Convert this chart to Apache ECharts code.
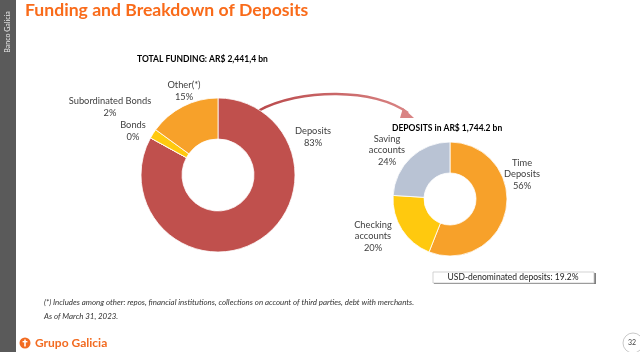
<!DOCTYPE html>
<html>
<head>
<meta charset="utf-8">
<script src="https://cdn.jsdelivr.net/npm/echarts@6/dist/echarts.min.js"></script>
<style>
  html, body { margin: 0; padding: 0; background: #fff; }
  #chart { width: 640px; height: 352px; }
</style>
</head>
<body>
<div id="chart"></div>
<script>
// funding breakdown (left donut), % of total
var fundingNames = ['Deposits', 'Bonds', 'Subordinated Bonds', 'Other(*)'];
var fundingValues = [83, 0, 2, 15];
// deposits breakdown (right donut), % of deposits
var depositNames = ['Time\nDeposits', 'Checking\naccounts', 'Saving\naccounts'];
var depositValues = [56, 20, 24];

var fundingColors = ['#C0504D', '#FFC000', '#FFC90E', '#F7A12A'];
var depositColors = ['#F7A12A', '#FFC90E', '#B9C3D4'];

// label anchor points (text centres), same order as the data
var fundingLabelPos = [[313, 137], [133, 131], [110, 107], [184, 91]];
var depositLabelPos = [[522, 174], [373, 236], [387, 150]];

var FONT = 'Lato, "Open Sans", sans-serif';
var chart = echarts.init(document.getElementById('chart'));

function pieData(names, values, colors) {
  return names.map(function (n, i) {
    return { name: n, value: values[i], itemStyle: { color: colors[i] } };
  });
}

var labelStyle = {
  show: true,
  position: 'outside',
  formatter: '{b}\n{c}%',
  color: '#404040',
  fontSize: 9.3,
  lineHeight: 11.5,
  fontFamily: FONT,
  align: 'center'
};

var option = {
  backgroundColor: '#fff',
  animation: false,
  title: [
    {
      text: 'Funding and Breakdown of Deposits',
      left: 25, top: 1, padding: 0,
      textStyle: { color: '#F96B1A', fontSize: 17.6, fontWeight: 'bold', fontFamily: FONT }
    },
    {
      text: 'TOTAL FUNDING: AR$ 2,441,4 bn',
      left: 137, top: 55, padding: 0,
      textStyle: { color: '#000', fontSize: 8.5, fontWeight: 'bold', fontFamily: FONT }
    },
    {
      text: 'DEPOSITS in AR$ 1,744.2 bn',
      left: 392, top: 124, padding: 0,
      textStyle: { color: '#000', fontSize: 8.5, fontWeight: 'bold', fontFamily: FONT }
    }
  ],
  series: [
    {
      type: 'pie',
      center: [218, 175],
      radius: [36, 77],
      startAngle: 90,
      clockwise: true,
      silent: true,
      itemStyle: { borderColor: '#fff', borderWidth: 0.8 },
      label: labelStyle,
      labelLine: { show: false },
      labelLayout: function (p) {
        var pos = fundingLabelPos[p.dataIndex];
        return { x: pos[0], y: pos[1], align: 'center', verticalAlign: 'middle' };
      },
      data: pieData(fundingNames, fundingValues, fundingColors)
    },
    {
      type: 'pie',
      center: [450, 199],
      radius: [26, 57],
      startAngle: 90,
      clockwise: true,
      silent: true,
      itemStyle: { borderColor: '#fff', borderWidth: 0.8 },
      label: labelStyle,
      labelLine: { show: false },
      labelLayout: function (p) {
        var pos = depositLabelPos[p.dataIndex];
        return { x: pos[0], y: pos[1], align: 'center', verticalAlign: 'middle' };
      },
      data: pieData(depositNames, depositValues, depositColors)
    }
  ],
  graphic: [
    // left grey sidebar
    { type: 'rect', shape: { x: 0, y: 0, width: 16, height: 352 }, style: { fill: '#5A5A5A' } },
    {
      type: 'text', x: 8, y: 32, rotation: Math.PI / 2,
      style: { text: 'Banco Galicia', fill: '#e8e8e8', fontSize: 7, fontFamily: FONT, align: 'center', verticalAlign: 'middle' }
    },
    // curved arrow between donuts
    {
      type: 'bezierCurve',
      shape: { x1: 258, y1: 111, x2: 408, y2: 113, cpx1: 300, cpy1: 88, cpx2: 375, cpy2: 88 },
      style: {
        fill: null, lineWidth: 2.5,
        stroke: new echarts.graphic.LinearGradient(0, 0, 1, 0, [
          { offset: 0, color: '#B9484A' }, { offset: 1, color: '#D98484' }
        ])
      }
    },
    {
      type: 'polygon',
      shape: { points: [[403, 108], [414, 118], [400, 118]] },
      style: { fill: '#D98484' }
    },
    // USD box
    { type: 'rect', shape: { x: 434, y: 273, width: 162, height: 11 }, style: { fill: '#7f7f7f' } },
    { type: 'rect', shape: { x: 433, y: 272, width: 161, height: 11 }, style: { fill: '#fff', stroke: '#c8c8c8', lineWidth: 0.8 } },
    {
      type: 'text', x: 513, y: 277.5,
      style: { text: 'USD-denominated deposits: 19.2%', fill: '#222', fontSize: 8.5, fontFamily: FONT, align: 'center', verticalAlign: 'middle' }
    },
    // footnotes
    {
      type: 'text', x: 44, y: 302,
      style: { text: '(*) Includes among other: repos, financial institutions, collections on account of third parties, debt with merchants.', fill: '#333', fontSize: 7.9, fontStyle: 'italic', fontFamily: FONT, verticalAlign: 'middle' }
    },
    {
      type: 'text', x: 44, y: 316,
      style: { text: 'As of March 31, 2023.', fill: '#333', fontSize: 7.9, fontStyle: 'italic', fontFamily: FONT, verticalAlign: 'middle' }
    },
    // footer logo
    { type: 'circle', shape: { cx: 25, cy: 343, r: 5.5 }, style: { fill: '#F26B21' } },
    { type: 'rect', shape: { x: 24.2, y: 339.5, width: 1.6, height: 7 }, style: { fill: '#fff' } },
    { type: 'rect', shape: { x: 22.6, y: 341, width: 4.8, height: 1.4 }, style: { fill: '#fff' } },
    {
      type: 'text', x: 35, y: 343,
      style: { text: 'Grupo Galicia', fill: '#F26B21', fontSize: 12, fontWeight: 'bold', fontFamily: FONT, verticalAlign: 'middle' }
    },
    // page number
    { type: 'circle', shape: { cx: 633, cy: 343, r: 10 }, style: { fill: '#fff', stroke: '#bbb', lineWidth: 0.8 } },
    {
      type: 'text', x: 632, y: 343,
      style: { text: '32', fill: '#444', fontSize: 7, fontFamily: FONT, align: 'center', verticalAlign: 'middle' }
    }
  ]
};

chart.setOption(option);
</script>
</body>
</html>
